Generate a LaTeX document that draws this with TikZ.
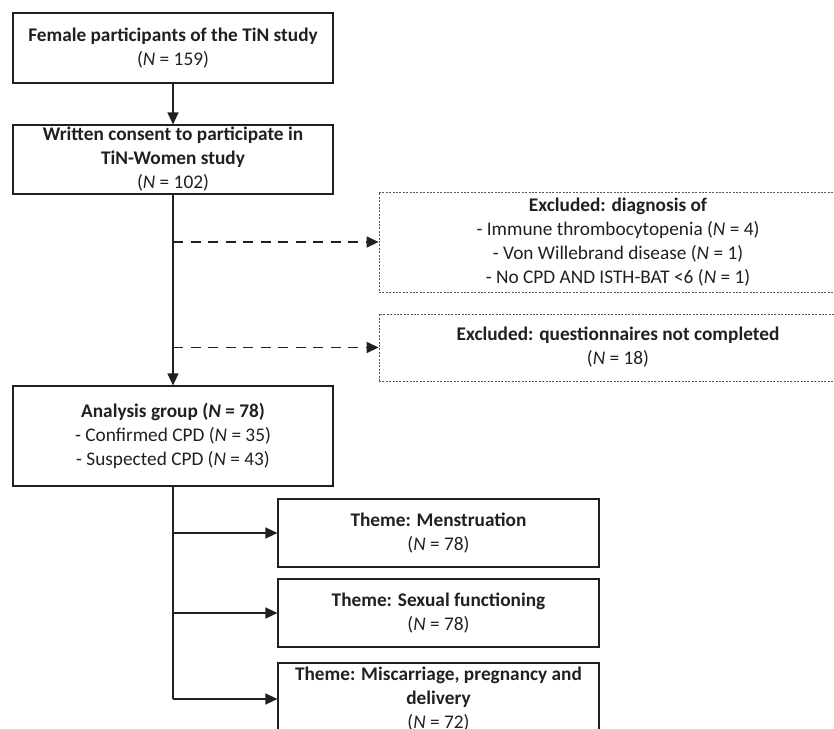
\documentclass[tikz,border=0pt]{standalone}
\usepackage{fontspec}
\setmainfont{Carlito}
\usepackage{tikz}
\usetikzlibrary{positioning,arrows.meta}
\definecolor{inkgray}{HTML}{231F20}

\begin{document}
\begin{tikzpicture}[x=1pt,y=-1pt,
    every node/.style={font=\fontsize{19.3}{24}\selectfont,text=inkgray,align=center,inner sep=0pt},
    mainbox/.style={draw=inkgray,line width=1.2pt,minimum width=320pt},
    exclbox/.style={draw=inkgray!75,line width=0.8pt,dash pattern=on 2pt off 1.4pt,minimum width=478pt},
    themebox/.style={draw=inkgray,line width=1.2pt,minimum width=321pt,minimum height=68pt},
    flow/.style={draw=inkgray,line width=1.4pt},
    flowarrow/.style={flow,-{Triangle[length=12pt,width=11pt]}},
    exclarrow/.style={flowarrow,dash pattern=on 10pt off 7.5pt}]
      \clip (0,0) rectangle (834,728);
      \useasboundingbox (0,0) rectangle (834,728);
      % main column
      \node[mainbox,minimum height=70pt](female) at (173,48){\textbf{Female participants of the TiN study}\\(\textit{N} = 159)};
      \node[mainbox,minimum height=69pt](consent) at (173,159.5){\textbf{Written consent to participate in}\\\textbf{TiN-Women study}\\(\textit{N} = 102)};
      \node[mainbox,minimum height=100pt](analysis) at (173,436){\textbf{Analysis group (\textit{N} = 78)}\\- Confirmed CPD (\textit{N} = 35)\\- Suspected CPD (\textit{N} = 43)};
      % excluded
      \node[exclbox,minimum height=100pt](diagnosis) at (618,242){\textbf{Excluded: diagnosis of}\\- Immune thrombocytopenia (\textit{N} = 4)\\- Von Willebrand disease (\textit{N} = 1)\\- No CPD AND ISTH-BAT <6 (\textit{N} = 1)};
      \node[exclbox,minimum height=67pt](questionnaires) at (618,347.5){\textbf{Excluded: questionnaires not completed}\\(\textit{N} = 18)};
      % themes
      \node[themebox](menstruation) at (438.5,533){\textbf{Theme: Menstruation}\\(\textit{N} = 78)};
      \node[themebox](sexual) at (438.5,613){\textbf{Theme: Sexual functioning}\\(\textit{N} = 78)};
      \node[themebox,minimum height=72pt](pregnancy) at (438.5,699){\textbf{Theme: Miscarriage, pregnancy and}\\\textbf{delivery}\\(\textit{N} = 72)};
      % connectors
      \draw[flowarrow] (female) -- (consent);
      \draw[flowarrow] (consent) -- (analysis);
      \draw[exclarrow] (consent.south |- diagnosis.west) -- (diagnosis.west);
      \draw[exclarrow] (consent.south |- questionnaires.west) -- (questionnaires.west);
      \draw[flow] (analysis.south) -- (analysis.south |- pregnancy.west);
      \draw[flowarrow] (analysis.south |- menstruation.west) -- (menstruation.west);
      \draw[flowarrow] (analysis.south |- sexual.west) -- (sexual.west);
      \draw[flowarrow] (analysis.south |- pregnancy.west) -- (pregnancy.west);
\end{tikzpicture}
\end{document}
